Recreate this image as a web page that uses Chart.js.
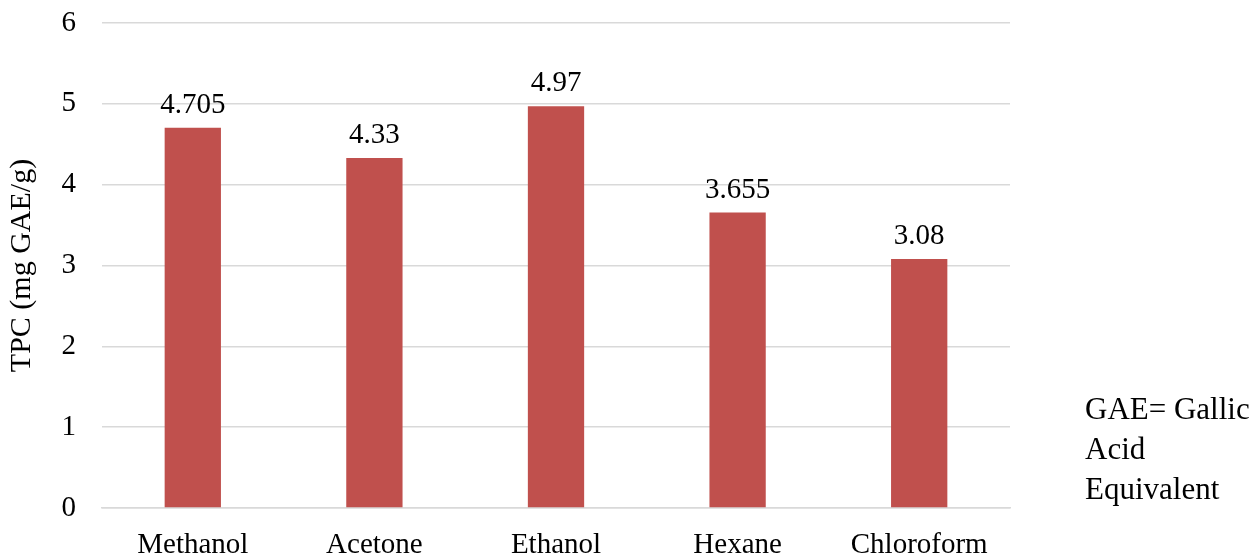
<!DOCTYPE html>
<html>
<head>
<meta charset="utf-8">
<script src="https://cdn.jsdelivr.net/npm/chart.js@4"></script>
<style>
  html, body { margin: 0; padding: 0; background: #fff; }
  #wrap { position: relative; width: 1258px; height: 554px; }
  #note {
    position: absolute; left: 1085px; top: 389px;
    font-family: "Liberation Serif", "Times New Roman", serif;
    font-size: 31px; line-height: 40px; color: #000;
  }
</style>
</head>
<body>
<div id="wrap">
  <canvas id="chart-area" width="1258" height="554"></canvas>
  <div id="note">GAE= Gallic<br>Acid<br>Equivalent</div>
</div>
<script>
var solvents = ['Methanol', 'Acetone', 'Ethanol', 'Hexane', 'Chloroform'];
var tpcValues = [4.705, 4.33, 4.97, 3.655, 3.08];
var valueLabels = ['4.705', '4.33', '4.97', '3.655', '3.08'];

var serif = '"Liberation Serif", "Times New Roman", serif';

// prints the value over each bar
var barValues = {
	id: 'barValues',
	afterDatasetsDraw: function(chart) {
		var ctx = chart.ctx;
		var meta = chart.getDatasetMeta(0);
		ctx.save();
		ctx.font = '29px ' + serif;
		ctx.fillStyle = '#000';
		ctx.textAlign = 'center';
		ctx.textBaseline = 'alphabetic';
		meta.data.forEach(function(bar, i) {
			ctx.fillText(valueLabels[i], bar.x, bar.y - 15);
		});
		ctx.restore();
	}
};

var myBar = new Chart(document.getElementById('chart-area'), {
	type: 'bar',
	data: {
		labels: solvents,
		datasets: [{
			data: tpcValues,
			backgroundColor: '#C0504D',
			barPercentage: 0.31,
			categoryPercentage: 1
		}]
	},
	options: {
		responsive: false,
		animation: false,
		layout: { padding: { top: 23, right: 248, bottom: 0, left: 0 } },
		plugins: {
			legend: { display: false },
			tooltip: { enabled: false }
		},
		scales: {
			x: {
				grid: { display: false, drawTicks: false },
				border: { color: '#d9d9d9', width: 1.5 },
				ticks: { color: '#000', padding: 23, font: { family: serif, size: 29, lineHeight: 1 } },
				afterFit: function(scale) { scale.height = 46; }
			},
			y: {
				min: 0,
				max: 6,
				grid: { color: '#d9d9d9', lineWidth: 1.5, drawTicks: false },
				border: { display: false },
				ticks: { stepSize: 1, color: '#000', padding: 26, font: { family: serif, size: 29 } },
				title: {
					display: true,
					text: 'TPC (mg GAE/g)',
					color: '#000',
					padding: { top: 4, bottom: 0 },
					font: { family: serif, size: 30 }
				},
				afterFit: function(scale) {
					scale.width = 102;
					scale.paddingTop = 0;
					scale.paddingBottom = 0;
				}
			}
		}
	},
	plugins: [barValues]
});
</script>
</body>
</html>
